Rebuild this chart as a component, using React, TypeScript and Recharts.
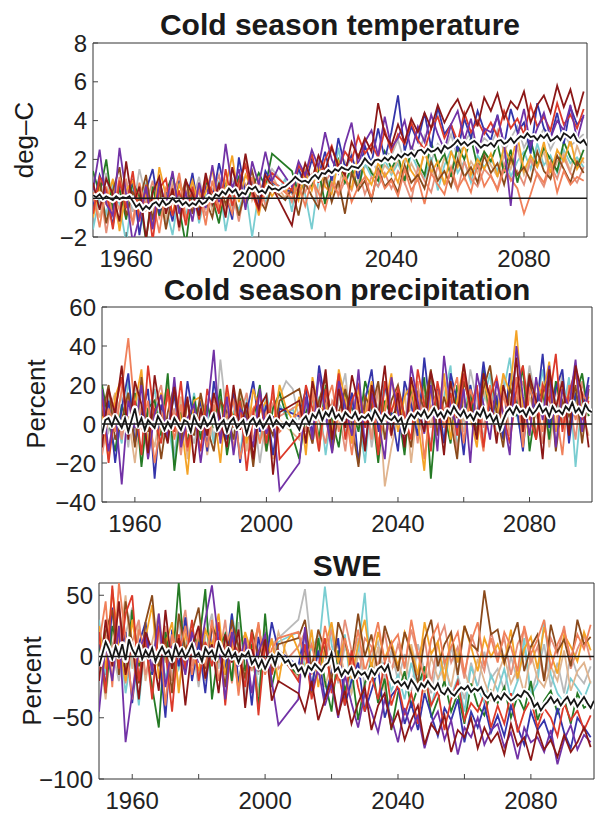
import React from 'react';
import { LineChart, Line, XAxis, YAxis, ReferenceLine, ReferenceArea } from 'recharts';

const W = 595;
const H = 814;
const FONT = '"Liberation Sans", Arial, Helvetica, sans-serif';
const Y_AXIS_W = 60;
const X_AXIS_H = 34;

/* ------------------------------------------------------------------ */
/*  Data                                                               */
/* ------------------------------------------------------------------ */
// annual x axis 1950..2099, model runs sampled every 2nd year (1950, 1952 ... 2098)
const YEARS = Array.from({ length: 150 }, (_, i) => 1950 + i);
const X_TICKS = [1960, 1980, 2000, 2020, 2040, 2060, 2080];
const X_LABELS = [1960, 2000, 2040, 2080];

const TAS_TICKS = [-2, 0, 2, 4, 6, 8];
const PR_TICKS = [-40, -20, 0, 20, 40, 60];
const SWE_TICKS = [-100, -50, 0, 50];

// ensemble means (annual)
const tasMean = [
  0.15, 0.05, 0.2, -0.05, 0.1, 0.0, -0.1, 0.1, -0.05, 0.05,
  0.0, 0.1, -0.15, -0.45, -0.3, -0.6, -0.4, -0.55, -0.3, -0.2,
  -0.4, -0.1, -0.35, -0.25, 0.0, -0.2, -0.1, -0.35, -0.2, -0.4,
  -0.25, -0.35, -0.1, -0.3, -0.2, 0.05, -0.1, 0.2, 0.1, 0.35,
  0.2, 0.5, 0.3, 0.45, 0.1, 0.3, 0.2, 0.55, 0.45, 0.6,
  0.3, 0.4, 0.25, 0.6, 0.45, 0.5, 0.4, 0.55, 0.6, 0.75,
  0.9, 1.1, 0.95, 0.85, 0.9, 0.8, 1.05, 1.2, 1.0, 1.3,
  1.25, 1.45, 1.3, 1.5, 1.4, 1.6, 1.5, 1.45, 1.65, 1.6,
  1.55, 1.75, 2.05, 1.85, 1.7, 1.95, 2.0, 1.9, 2.1, 1.95,
  2.15, 2.0, 2.25, 2.1, 2.3, 2.2, 2.35, 2.15, 2.45, 2.5,
  2.3, 2.55, 2.4, 2.45, 2.6, 2.35, 2.7, 2.55, 2.65, 2.8,
  3.0, 2.75, 2.9, 2.7, 2.85, 2.95, 2.8, 2.6, 2.75, 2.7,
  2.85, 2.65, 2.95, 3.0, 2.8, 2.9, 3.1, 2.85, 3.05, 3.2,
  3.1, 3.35, 3.15, 3.2, 3.0, 3.25, 3.1, 3.3, 2.95, 3.05,
  3.2, 3.0, 3.35, 3.25, 3.1, 3.3, 2.95, 2.85, 3.0, 2.7,
];
const prMean = [
  -5, 2, 3, -1, 4, 1, -2, 3, -4, 2,
  8, -1, 3, -3, 2, 0, -2, 4, 1, -3,
  1, -2, 3, 0, -3, 2, 1, -4, 4, 0,
  -2, 3, -1, 1, 5, -3, 0, 2, -4, 1,
  3, -2, 0, 2, -5, 1, 3, -1, 2, -2,
  1, 4, -1, 2, 0, -2, 1, -1, 2, 0,
  -3, 2, 4, 0, 5, 3, 7, 2, 6, 4,
  8, 3, 5, 2, 6, 4, 3, 6, 2, 4,
  3, 5, 2, 7, 4, 1, 5, 3, 2, 4,
  1, 3, -4, 2, 5, 3, 6, 4, 7, 3,
  5, 8, 4, 6, 3, 7, 5, 9, 6, 4,
  7, 3, 5, 2, 6, 4, 8, 3, 5, 1,
  4, -3, 2, 6, 8, 5, 9, 6, 7, 4,
  8, 5, 7, 10, 6, 8, 4, 9, 6, 7,
  5, 9, 7, 11, 6, 8, 5, 10, 7, 6,
];
const sweMean = [
  -8, 2, 12, 6, -2, 8, 0, 10, -3, 14,
  6, 1, 9, -2, 5, 0, 7, -4, 3, 8,
  2, 5, -3, 9, 1, 6, -1, 4, 10, 0,
  3, -4, 7, 2, 5, -2, 11, 4, 0, 6,
  -1, 3, -5, 2, 0, 4, -6, -2, -9, -3,
  -10, -4, 1, -7, 3, 0, -5, -3, -8, -6,
  -12, -9, -16, -8, -11, -6, -9, -12, -7, -5,
  3, -12, -9, -16, -11, -14, -9, -17, -12, -15,
  -13, -18, -11, -15, -10, -8, -12, -7, -18, -22,
  -20, -24, -21, -26, -19, -23, -28, -22, -25, -20,
  -24, -27, -22, -29, -31, -26, -30, -32, -28, -25,
  -27, -24, -29, -26, -28, -25, -31, -34, -30, -36,
  -32, -35, -30, -33, -36, -34, -31, -33, -28, -30,
  -34, -41, -38, -44, -40, -37, -33, -38, -35, -40,
  -36, -33, -39, -35, -41, -37, -33, -38, -42, -36,
];

// cold season temperature, deg-C (every 2nd year)
const tasDarkRed = [
  0.8, -0.6, 1.0, 0.2, -1.2, 1.9, -0.4, 0.6, -2.1, 0.3, 1.1, -0.8, 0.5, -1.5, 0.9,
  0.2, -0.9, 1.3, -0.3, 0.7, -1.0, 1.6, 0.1, 2.3, 0.4, -0.5, 1.2, 0.6, null, null,
  -1.4, 0.5, 1.8, 0.9, 2.2, 1.4, 2.6, 1.7, 1.2, 2.9, 2.1, 3.1, 2.4, 4.9, 3.3,
  2.7, 3.8, 2.9, 4.1, 3.4, 4.4, 3.6, 4.8, 3.9, 4.6, 5.1, 4.2, 4.9, 3.7, 5.2,
  4.5, 5.4, 4.1, 5.0, 4.6, 5.5, 3.9, 4.8, 5.3, 4.4, 5.8, 4.7, 5.6, 4.3, 5.5,
];
const tasPurple = [
  0.4, 2.5, -0.3, -0.9, 2.6, 0.2, -2.3, -1.0, 0.6, -1.6, 0.9, -0.4, 1.4, -0.8, 0.3,
  -1.2, 0.8, -0.5, 1.7, -0.2, 2.8, 0.5, 1.5, -0.6, 1.9, 0.7, 2.4, 0.9, 1.6, 1.1,
  0.6, 1.9, 1.2, 2.5, 1.6, 3.4, 2.0, 1.3, 2.8, 3.9, 1.7, 2.9, 3.5, 2.2, 4.2,
  2.6, 3.1, 4.0, 2.4, 3.7, 2.9, 4.3, 3.3, 2.5, 3.8, 4.5, 3.0, 4.1, 2.3, 3.6,
  3.4, 4.2, 2.8, -0.4, 3.2, 4.6, 2.7, 3.6, 4.4, 3.1, 4.0, 3.5, 4.8, 3.0, 4.3,
];
const tasBlue = [
  -0.5, 1.2, 0.3, -1.4, 0.8, -0.2, 1.0, -1.9, 0.4, 1.5, -0.7, 0.2, -1.2, 0.9, -0.4,
  1.3, -0.8, 0.6, -0.1, 1.8, 0.3, -1.1, 2.1, 0.2, 1.0, -0.3, 1.4, 0.8, null, null,
  0.3, 1.5, 0.7, 2.0, 1.1, 2.4, 0.9, 3.1, 1.6, 2.2, 1.0, 2.7, 1.8, 3.6, 2.0,
  3.4, 5.3, 2.4, 3.7, 2.9, 4.4, 2.6, 4.7, 3.3, 3.8, 2.4, 4.1, 3.1, 4.5, 3.5,
  3.0, 4.3, 2.7, 4.6, 3.4, 3.9, 2.3, 4.9, 3.6, 3.1, 4.4, 2.8, 4.7, 3.8, 4.2,
];
const tasGreen = [
  1.4, 0.2, 2.0, -0.6, 0.5, -1.1, 0.8, 0.1, -2.2, 0.6, -0.9, 0.3, 1.2, -0.5, -2.4,
  0.4, -0.6, 0.9, 0.0, -1.3, 0.7, 0.2, 1.1, -0.4, 0.5, 1.3, 0.6, 2.3, null, null,
  1.4, 0.2, 1.0, 0.6, 1.5, -0.3, 1.2, 2.0, 0.8, 1.6, 0.4, 2.1, 1.3, 0.9, 2.4,
  1.5, 2.2, 0.9, 2.6, 1.8, 1.2, 2.9, 1.7, 2.3, 1.1, 2.7, 2.0, 3.1, 1.6, 2.4,
  1.9, 2.8, 1.3, 2.5, 0.8, 2.2, 3.0, 1.7, 2.6, 2.0, 1.4, 2.9, 2.1, 1.6, 2.5,
];
const tasOrange = [
  -1.0, 0.5, -0.3, 1.0, -1.7, 0.4, 0.9, -0.6, 0.2, -1.3, 1.6, 0.1, -0.8, 0.7, -0.2,
  0.9, -0.4, 0.3, 1.5, -0.7, 0.6, 2.2, -0.2, 1.2, 0.5, -0.9, 0.8, 0.1, 0.6, 0.3,
  0.9, -0.1, 1.4, 0.4, 1.7, 0.6, 0.2, 1.9, 1.0, 0.5, 2.3, 1.2, 0.7, 1.8, 1.1,
  1.6, 0.8, 2.2, 1.4, 0.9, 2.5, 1.3, 1.9, 0.7, 2.4, 1.6, 2.8, 1.2, 2.0, 1.5,
  2.3, 1.1, 2.7, 1.8, 3.2, 1.4, 2.2, 1.6, 2.9, 1.3, 2.5, 1.9, 3.0, 1.5, 2.1,
];
const tasCoral = [
  0.3, -1.5, 0.6, -0.9, 1.1, -0.4, -1.2, 0.8, -0.6, 0.0, -1.8, 0.5, -0.2, 1.3, -1.0,
  -0.3, 0.4, -1.4, 0.9, -0.5, 0.2, -0.8, 0.7, -0.2, 1.1, -0.6, 0.3, 0.9, null, null,
  0.0, 0.7, -0.4, 1.0, 0.3, -0.6, 0.8, 0.2, 1.3, -0.2, 0.6, 1.1, 0.0, 1.4, 0.5,
  0.9, 0.1, 1.5, 0.4, 1.0, -0.3, 1.3, 0.7, 0.2, 1.6, 0.5, 1.1, 0.3, 1.8, 0.6,
  1.2, 0.4, 1.5, 1.0, 0.5, -0.8, 0.2, 1.3, 0.8, 1.9, 0.3, 1.4, 0.7, 1.1, 0.9,
];
const tasBrown = [
  -0.7, 0.9, -1.3, 0.4, 1.6, -0.9, 0.3, -0.2, 1.2, -1.1, 0.6, -1.6, 0.2, -0.4, 1.0,
  -0.8, 0.5, -0.1, -1.0, 0.8, -0.3, 0.6, -0.9, 0.4, 1.4, 0.0, -0.6, 0.7, 0.2, -0.1,
  0.5, -0.9, 0.8, 0.1, -0.5, 1.2, -0.2, 0.9, -0.8, 1.3, 0.4, 0.9, -0.1, 1.5, 0.6,
  1.0, 0.3, 1.7, 0.8, 1.2, 0.5, 1.9, 0.9, 1.4, 0.6, 2.0, 1.1, 1.6, 0.8, 2.2,
  1.3, 1.8, 0.7, 2.1, 1.2, 1.6, 0.9, 2.4, 1.4, 1.0, 2.2, 1.5, 0.8, 1.9, 1.3,
];
const tasCyan = [
  -1.6, 0.1, -0.8, 0.7, -0.3, -2.3, 0.4, -0.6, 0.8, -1.2, 0.2, -0.5, -1.9, 0.3, -0.9,
  0.5, -1.3, 0.2, -0.4, 0.9, -1.7, 0.1, -0.6, 0.5, -2.0, 0.3, -0.2, 0.8, 0.4, 1.0,
  -0.7, 1.6, 0.2, -1.6, 0.9, 1.3, 0.3, 2.6, 0.8, 1.4, 0.5, 1.8, 1.1, 0.6, 2.0,
  1.2, 1.8, 0.9, 2.3, 1.5, 1.0, 2.1, 0.4, 1.7, 2.5, 1.3, 1.9, 0.8, 2.2, 1.6,
  2.0, 1.4, 2.6, 1.1, 1.9, 2.4, 1.5, 2.8, 1.7, 2.2, 1.3, 2.5, 1.8, 2.1, 1.6,
];
const tasGray = [
  0.6, -0.4, 1.3, -1.0, 0.2, 0.9, -0.7, 1.5, 0.0, -0.5, 0.7, -1.4, 0.4, 1.0, -0.3,
  -0.1, 1.1, -0.6, 0.5, 0.1, -0.4, 1.0, 0.3, -0.3, 0.8, 0.2, 0.6, 1.5, null, null,
  0.2, 0.9, 1.3, 0.5, 2.1, 1.0, 0.6, 1.8, 1.2, 2.3, 0.9, 1.6, 2.0, 1.3, 2.4,
  2.2, 3.0, 1.8, 2.6, 2.3, 3.2, 1.9, 2.8, 2.4, 3.3, 2.0, 2.9, 3.4, 2.5, 3.1,
  2.8, 3.5, 2.4, 3.1, 3.7, 2.6, 3.3, 2.9, 3.6, 2.5, 3.2, 3.4, 2.7, 3.0, 3.3,
];
const tasTan = [
  0.2, -1.0, 0.5, -0.2, -1.5, 0.8, 0.0, -0.9, 0.6, -0.4, 0.3, -1.1, 0.9, -0.6, 0.1,
  0.7, -0.2, 1.1, -0.7, 0.4, 0.9, -0.5, 0.6, 2.0, -0.1, 0.8, 0.3, 1.2, 0.5, 0.0,
  1.0, 0.4, 1.5, 0.8, 0.3, 1.6, 1.0, 0.5, 1.9, 1.2, 0.7, 2.1, 1.4, 0.9, 1.7,
  1.3, 2.0, 0.8, 1.8, 1.1, 2.3, 1.5, 0.9, 2.1, 1.4, 2.6, 1.0, 1.9, 1.3, 2.4,
  1.7, 1.1, 2.2, 1.5, 2.6, 1.2, 2.0, 1.6, 2.4, 1.0, 1.9, 2.3, 1.4, 2.7, 1.8,
];
const tasRed = [
  -0.8, 1.1, 0.4, -1.6, 0.9, -0.5, 1.4, -1.2, 0.7, -2.2, 0.5, 1.0, -0.9, 0.4, -1.4,
  0.6, -1.1, 1.0, 0.3, -0.8, 1.5, -0.4, 0.9, 1.7, 0.2, -0.6, 0.9, 1.3, null, null,
  0.4, 1.7, 1.1, 2.3, 0.8, 2.0, 2.7, 1.5, 2.4, 1.9, 3.2, 2.3, 2.8, 2.1, 3.5,
  2.4, 3.3, 2.8, 3.9, 3.0, 2.5, 3.6, 4.2, 3.1, 3.8, 2.9, 4.4, 3.4, 4.0, 3.3,
  3.9, 3.2, 4.5, 3.6, 4.1, 3.3, 4.8, 3.7, 4.2, 3.5, 4.9, 3.8, 4.3, 3.6, 4.6,
];
const tasSalmon = [
  -0.2, 0.7, -1.8, 0.3, -0.6, 1.0, -1.4, 0.2, -0.3, 0.9, -1.0, -0.1, 0.6, -1.7, 0.4,
  -0.5, 0.8, -0.9, 0.2, 1.2, -0.6, 0.4, -1.2, 0.7, 0.0, 1.0, -0.4, 0.5, 0.2, 0.6,
  -0.2, 0.9, 0.3, 1.2, -0.3, 0.8, 1.4, 0.1, 0.9, 0.4, 1.5, 0.2, 1.1, 0.6, 1.3,
  0.5, 1.4, 0.8, -0.1, 1.6, 0.9, 0.3, 1.7, 0.7, 1.2, 0.4, 1.9, 1.0, 0.6, 1.5,
  1.1, 0.5, 1.8, 0.9, 1.4, 0.7, 2.0, 1.2, 0.6, 1.7, 1.0, 2.1, 1.3, 0.8, 1.6,
];

// cold season precipitation, percent (every 2nd year)
const prDarkRed = [
  -12, 18, 5, 30, -8, 22, 10, -15, 25, 3, -10, 19, -4, 14, -20,
  8, -6, 16, 2, -12, 20, -3, 11, -18, 9, 15, -26, 6, null, null,
  12, -10, 22, 5, 28, -8, 18, -2, 25, 10, -14, 20, 4, 30, -6,
  16, -12, 24, 8, -4, 27, 12, -16, 22, 3, 31, 9, -8, 26, 14,
  -10, 20, 6, 34, -4, 25, 12, -18, 28, 8, 22, -6, 30, 15, -12,
];
const prPurple = [
  18, -14, 8, -31, 12, -2, 20, -18, 5, 15, -8, 24, -12, 3, 10,
  -20, 6, 38, -10, 14, -16, 8, 2, -12, 18, -5, 4, -34, null, null,
  -20, 14, -8, 26, 4, -15, 22, 9, -6, 28, -12, 16, 2, -18, 24,
  6, -10, 30, 12, -5, 20, -14, 35, 8, -2, 18, -20, 26, 10, -8,
  22, 4, -16, 40, 14, -6, 24, 2, 30, -12, 18, 8, 33, -4, 20,
];
const prBlue = [
  -6, 12, -20, 8, 26, -10, 4, 18, -28, 10, -2, 15, -9, 22, 0,
  12, -14, 22, 3, -8, 16, -20, 6, 22, -4, 10, -16, 8, null, null,
  4, 18, -6, 30, 10, -12, 24, 2, 16, -20, 12, 28, -4, 20, 6,
  -14, 22, 10, -6, 34, 4, 18, -10, 26, 12, -16, 20, 2, 32, 8,
  14, -8, 26, 10, -14, 22, 6, 36, -2, 18, 28, -10, 16, 4, 24,
];
const prGreen = [
  20, 2, -14, 10, -4, 16, -22, 8, 12, -6, 26, -24, 6, -10, 14,
  -8, 10, -2, 18, -16, 4, 12, -6, 2, 20, -14, 8, 16, null, null,
  -18, 6, 14, -8, 20, 2, -12, 16, 8, -4, 22, 10, -20, 12, 4,
  8, -16, 18, 2, 24, -28, 12, 6, -10, 20, 4, 16, -6, 28, 2,
  12, -6, 20, 4, 30, -14, 10, 18, -8, 22, 6, -2, 14, 26, 4,
];
const prOrange = [
  6, -18, 14, 24, -2, 10, 28, -12, 4, 16, -8, 20, 2, -26, 12,
  14, -4, 8, -20, 16, 2, 10, -10, 18, 6, 12, -2, 20, 8, 2,
  14, -16, 24, 6, 10, -6, 28, 12, -10, 18, 4, 22, -14, 8, 26,
  -4, 14, 20, 2, -24, 18, 6, 26, -8, 12, 30, 4, -12, 22, 10,
  2, 26, 16, 48, 8, -6, 22, 14, 32, -4, 18, 10, 26, 6, 14,
];
const prCoral = [
  -10, 8, -4, 18, 44, 6, -2, 12, -20, 2, 14, -8, 10, -14, 4,
  2, -12, 10, -6, 4, 12, -18, 0, 8, -10, 6, 14, -4, null, null,
  6, -8, 16, -12, 10, 20, -4, 8, -16, 14, 2, 18, -10, 6, 22,
  10, -6, 14, 22, -18, 8, 16, -2, 12, 24, -10, 18, 6, -14, 20,
  -8, 14, 6, 24, -12, 18, 10, -4, 28, 8, -16, 20, 2, 16, 10,
];
const prBrown = [
  4, 20, -8, 2, 16, -12, 24, -4, 8, -18, 6, 20, -10, 12, -6,
  16, -2, -14, 12, 6, -8, 18, 4, -22, 10, 2, -6, 12, null, null,
  18, 2, -10, 12, 24, -14, 6, 18, 0, -22, 14, 8, 22, -8, 12,
  20, 4, -12, 16, 8, 28, -6, 14, 2, -18, 22, 10, -4, 18, 30,
  6, -12, 18, 10, 2, 26, -8, 16, 24, -14, 12, 4, 20, -10, 18,
];
const prCyan = [
  -2, 12, 4, -10, 22, 0, -14, 6, 18, -8, 2, -20, 12, -4, 16,
  -6, 8, -10, 14, -2, 6, -16, 12, 4, -8, 16, -2, 10, 4, 8,
  -4, 10, 2, 14, -16, 8, 20, -6, 12, 4, -20, 16, 6, 22, -2,
  12, 0, 18, -8, 10, 22, -4, 14, 30, -12, 6, 20, -6, 12, 26,
  -4, 16, 34, 6, -10, 18, 8, 28, -2, 12, 4, 24, -22, 14, 8,
];
const prGray = [
  10, -4, 6, 14, -12, 20, 4, -8, 12, -2, 18, -16, 8, 2, -10,
  6, 12, -8, 33, 2, -12, 14, -4, 8, -20, 4, 10, 14, 22, 18,
  2, 14, -10, 8, 18, -4, 12, 26, -8, 6, 16, -12, 10, 20, 0,
  14, -6, 10, 20, 4, -10, 16, 2, 24, 8, -4, 28, 12, -8, 18,
  10, 24, -6, 14, 4, 30, 12, -10, 18, 6, 26, -2, 16, 8, 20,
];
const prTan = [
  -14, 6, 16, -6, 4, -20, 10, 2, -12, 8, 20, -4, 14, -18, 6,
  10, -16, 4, 12, -8, 2, 18, -14, 6, -2, 8, -18, 2, null, null,
  -8, 12, 4, -14, 16, 6, -2, 20, -10, 8, 14, -6, 18, -32, -12,
  4, 18, -20, 10, 14, -2, 20, 8, 10, 16, 2, 12, -6, 18, 4,
  16, -2, 12, 20, -8, 14, 4, 22, -12, 10, 18, -4, 12, 6, -6,
];
const prRed = [
  14, -20, 8, 24, -6, 12, -16, 30, 2, -10, 18, -4, 22, -12, 6,
  -14, 18, 4, -8, 20, -2, 12, -24, 6, 16, -10, 20, -18, null, null,
  -6, 20, 8, -14, 18, 4, 26, -8, 12, 20, -2, 14, -16, 22, 6,
  18, 4, -8, 28, 10, -14, 22, 4, 16, -6, 26, 8, 20, -12, 14,
  24, 6, -10, 18, 30, 4, -8, 20, 12, 36, -4, 16, 28, 2, 12,
];
const prSalmon = [
  -16, 4, 12, -8, 16, -2, 8, -18, 10, 20, -6, 8, -16, 12, -4,
  6, -10, 14, -4, 10, -12, 4, 16, -8, 2, -14, 10, 4, null, null,
  10, -4, 18, 2, -10, 12, 6, -14, 16, 0, 10, -8, 20, 4, -6,
  12, 2, 16, -10, 20, 6, -4, 22, 10, -14, 14, 4, 18, -2, 12,
  6, 18, -6, 12, 22, 2, 16, -10, 8, 20, 0, 14, -8, 22, 4,
];

// snow water equivalent, percent (every 2nd year)
const sweDarkRed = [
  -20, 30, -8, 45, -15, 12, -35, 20, 5, -28, 38, -10, 15, -40, 8,
  25, -18, 10, -30, 18, -5, 22, -42, 6, -12, 14, -36, -20, null, null,
  -30, -45, -20, -52, -35, -18, -48, -28, -55, -38, -25, -60, -40, -30, -58,
  -45, -68, -52, -40, -72, -55, -63, -48, -78, -60, -66, -50, -75, -58, -70,
  -62, -80, -55, -73, -66, -85, -60, -76, -68, -82, -64, -78, -70, -58, -74,
];
const swePurple = [
  -45, 10, -20, 25, -70, -30, 5, 18, -12, 35, -25, 8, 8, -15, 20,
  -5, 30, 58, 12, -35, 20, -8, 15, -30, 4, 18, -20, -56, null, null,
  -35, 24, -28, -10, -40, -22, -50, -15, -38, -58, -30, -45, -62, -35, -50,
  -70, -42, -60, -48, -75, -55, -45, -68, -52, -80, -58, -66, -50, -72, -60,
  -55, -74, -62, -84, -58, -70, -66, -78, -60, -88, -68, -56, -76, -64, -70,
];
const sweBlue = [
  15, -25, 40, -5, 20, -38, 10, 28, -15, 5, -50, 22, -8, 32, -20,
  12, -30, 25, 2, -12, 35, -22, 8, -40, 16, -10, 28, 5, null, null,
  -8, 20, -25, 5, -35, -12, 15, -40, -20, -5, -45, -28, -10, -50, -32,
  -25, -55, -38, -60, -30, -48, -65, -42, -52, -35, -70, -45, -58, -40, -62,
  -48, -65, -40, -58, -72, -45, -60, -52, -68, -42, -62, -75, -50, -58, -66,
];
const sweGreen = [
  12, -30, 25, 5, -15, 38, -8, 10, -25, -58, 20, -10, 60, -12, 20,
  8, 55, -35, 5, 18, -20, 45, -12, 10, -42, 35, -25, 0, null, null,
  -15, 8, -30, 15, -20, -45, 5, -28, -10, -52, -22, -5, -38, -18, -60,
  -30, -12, -42, -25, -8, -50, -35, -20, -45, -30, -55, -22, -40, -48, -28,
  -38, -25, -50, -32, -44, -20, -52, -36, -28, -46, -34, -55, -30, -42, -38,
];
const sweOrange = [
  25, -10, 55, 8, -20, 30, -5, 15, 42, -18, 10, 28, -30, 18, 5,
  -12, 22, 8, 35, -15, 12, -28, 20, 2, 26, -8, 14, -22, 10, 18,
  5, -12, 22, -25, 8, 28, -5, 15, -18, 10, 30, -10, 20, -2, 12,
  -8, 20, 5, -15, 28, 2, 12, -20, 18, -5, 25, 8, -12, 15, 0,
  10, -6, 22, -18, 6, 16, -10, 24, 2, -14, 18, 8, -4, 20, 5,
];
const sweCoral = [
  10, 45, -25, 60, 15, -35, 22, 5, -12, 30, -40, 18, 0, 25, -15,
  20, -8, 30, -20, 8, 22, -32, 12, -5, 28, -15, 6, 15, null, null,
  20, -2, 10, -15, 25, 0, -20, 15, -8, 22, -12, 5, 28, -5, 10,
  18, -10, 30, 2, -18, 14, 26, -6, 8, 20, -14, 12, 28, -8, 15,
  -5, 20, 8, -12, 25, 2, 14, 30, -10, 10, 22, -2, 18, 6, 26,
];
const sweBrown = [
  -5, 20, 38, -15, 45, 10, -22, 28, 50, -8, 15, -30, 35, 5, 20,
  40, -10, 25, 12, -25, 30, 8, -18, 22, 0, 18, -12, 10, null, null,
  15, 30, -10, 22, 5, -20, 28, 12, -5, 35, 0, 18, -15, 25, 8,
  -12, 20, 2, -22, 14, 30, -8, 10, 20, -15, 25, 10, 5, 54, 18,
  22, -5, 12, 28, -12, 8, 18, -20, 26, 4, 14, -8, 30, 10, 16,
];
const sweCyan = [
  30, -15, 10, 20, -30, 5, -40, 15, 0, 25, -20, 12, -10, 8, 28,
  -18, 10, -5, 22, -12, 35, 5, -20, 15, -28, 8, -5, 12, null, null,
  20, -10, 8, 2, 57, 10, -15, 18, -30, 5, 52, -20, -8, -5, -28,
  -15, -35, -5, -28, -12, -40, -20, 0, -32, -18, -45, -8, -25, -38, -15,
  -28, -10, -35, -20, 15, -32, -22, 30, -15, -30, -38, -18, -26, -34, -20,
];
const sweGray = [
  -12, 25, 5, -20, 18, 40, -8, 12, -30, 22, 2, -15, 30, -5, 10,
  -25, 15, 35, -10, 20, -2, 28, -35, 8, -15, 22, 10, 15, null, null,
  30, 55, 5, 18, -10, 25, -22, 8, -5, 15, -25, 0, 12, -18, 5,
  -20, 2, -28, 10, -12, -30, 0, -22, 8, -16, -35, -5, -25, 4, -18,
  -10, -28, 0, -20, 8, -32, -12, 10, -25, -5, -30, 2, -15, -22, -8,
];
const sweTan = [
  5, -35, 20, 8, 50, -10, 28, -20, 12, 35, -5, 18, -25, 10, 0,
  15, -20, 8, 28, -12, 10, -25, 18, 5, -32, 12, -8, 20, 5, -10,
  -18, 5, -8, 12, -25, -5, 10, -15, -30, 2, -12, -20, 8, -28, -10,
  -5, -22, 10, -15, -30, 0, -18, -8, -25, 5, -12, -28, -2, -20, -35,
  -15, 0, -22, -10, -30, 2, -18, -25, -8, -20, 5, -28, -12, -5, -22,
];
const sweRed = [
  20, -30, 58, -10, 35, 50, -20, 15, -35, 25, 5, -45, 18, -10, 30,
  -20, 12, -8, 28, -40, 15, 2, -25, 20, -48, 10, -15, 5, null, null,
  -20, 10, -35, -8, 15, -30, -12, -40, 5, -25, -45, -15, -35, -5, -40,
  -22, -48, -30, -55, -15, -40, -28, -60, -35, -20, -52, -38, -45, -30, -58,
  -40, -55, -30, -62, -45, -35, -58, -42, -50, -65, -38, -52, -44, -60, -48,
];
const sweSalmon = [
  -10, 18, 5, 40, -22, 12, 30, -15, 8, -5, 25, -20, 12, 38, -8,
  22, -15, 12, -5, 30, -22, 10, 18, -12, 25, -5, 15, -10, null, null,
  8, 20, -15, 12, 0, 22, -10, 30, 5, -18, 15, 8, -8, 20, -12,
  10, -8, 22, 0, 15, -22, 12, 25, -5, 8, -18, 18, 2, -12, 20,
  0, 15, -15, 10, 22, -5, 8, -20, 15, 2, 25, -10, 6, 18, -3,
];

/* ------------------------------------------------------------------ */
/*  Helpers                                                            */
/* ------------------------------------------------------------------ */
const COLORS = {
  gray: '#bababa',
  cyan: '#79cdd1',
  tan: '#e0b48e',
  salmon: '#e58f7a',
  green: '#257a25',
  blue: '#3434aa',
  orange: '#f4a326',
  brown: '#8a4a1c',
  coral: '#f0805a',
  red: '#dc3a2a',
  purple: '#7232a6',
  darkred: '#8c1717',
};

type Model = { key: string; color: string; values: (number | null)[] };

const makeModels = (v: Record<string, (number | null)[]>): Model[] =>
  // draw order: light colours first, dark red on top
  ['gray', 'cyan', 'tan', 'salmon', 'green', 'blue', 'orange', 'brown', 'coral', 'red', 'purple', 'darkred'].map(
    (key) => ({ key, color: (COLORS as any)[key], values: v[key] }),
  );

const tasModels = makeModels({
  gray: tasGray, cyan: tasCyan, tan: tasTan, salmon: tasSalmon, green: tasGreen, blue: tasBlue,
  orange: tasOrange, brown: tasBrown, coral: tasCoral, red: tasRed, purple: tasPurple, darkred: tasDarkRed,
});
const prModels = makeModels({
  gray: prGray, cyan: prCyan, tan: prTan, salmon: prSalmon, green: prGreen, blue: prBlue,
  orange: prOrange, brown: prBrown, coral: prCoral, red: prRed, purple: prPurple, darkred: prDarkRed,
});
const sweModels = makeModels({
  gray: sweGray, cyan: sweCyan, tan: sweTan, salmon: sweSalmon, green: sweGreen, blue: sweBlue,
  orange: sweOrange, brown: sweBrown, coral: sweCoral, red: sweRed, purple: swePurple, darkred: sweDarkRed,
});

function buildRows(mean: number[], models: Model[]) {
  return YEARS.map((year, i) => {
    const row: Record<string, number> = { year, mean: mean[i], meanHalo: mean[i] };
    if (year % 2 === 0) {
      const j = (year - 1950) / 2;
      models.forEach((m) => {
        const v = m.values[j];
        if (v !== null && v !== undefined) row[m.key] = v;
      });
    }
    return row;
  });
}

const fmt = (v: number) => (v < 0 ? `\u2212${Math.abs(v)}` : `${v}`);

function XTick(props: any) {
  const { x, y, payload } = props;
  const v = payload.value;
  return (
    <g>
      <line x1={x} x2={x} y1={y} y2={y - 5} stroke="#444" strokeWidth={1} />
      {X_LABELS.includes(v) && (
        <text x={x} y={y + 30} textAnchor="middle" fontSize={24} fill="#222">
          {v}
        </text>
      )}
    </g>
  );
}

function YTick(props: any) {
  const { x, y, payload } = props;
  return (
    <g>
      <line x1={x} x2={x + 5} y1={y} y2={y} stroke="#444" strokeWidth={1} />
      <text x={x - 6} y={y + 8.5} textAnchor="end" fontSize={24} fill="#222">
        {fmt(payload.value)}
      </text>
    </g>
  );
}

/* ------------------------------------------------------------------ */
/*  Panel                                                              */
/* ------------------------------------------------------------------ */
interface Box {
  left: number;
  right: number;
  top: number;
  bottom: number;
}

interface PanelProps {
  box: Box;
  yDomain: [number, number];
  yTicks: number[];
  mean: number[];
  models: Model[];
}

const layer: React.CSSProperties = { position: 'absolute', left: 0, top: 0, pointerEvents: 'none' };

// three stacked charts with identical scales: model runs, then the
// ensemble mean, then the zero line on top of everything
function Panel({ box, yDomain, yTicks, mean, models }: PanelProps) {
  const rows = buildRows(mean, models);
  const margin = {
    top: box.top,
    right: W - box.right,
    bottom: H - box.bottom - X_AXIS_H,
    left: box.left - Y_AXIS_W,
  };
  const axes = (withTicks: boolean) => [
    <XAxis
      key="x"
      type="number"
      dataKey="year"
      domain={[1950, 2099]}
      ticks={X_TICKS}
      interval={0}
      allowDataOverflow
      height={X_AXIS_H}
      axisLine={false}
      tickLine={false}
      tickSize={0}
      tickMargin={0}
      tick={withTicks ? <XTick /> : false}
    />,
    <YAxis
      key="y"
      type="number"
      domain={yDomain}
      ticks={yTicks}
      interval={0}
      allowDataOverflow
      width={Y_AXIS_W}
      axisLine={false}
      tickLine={false}
      tickSize={0}
      tickMargin={0}
      tick={withTicks ? <YTick /> : false}
    />,
  ];

  return (
    <>
      <div style={layer}>
        <LineChart width={W} height={H} data={rows} margin={margin}>
          {axes(true)}
          <ReferenceArea
            x1={1950}
            x2={2099}
            y1={yDomain[0]}
            y2={yDomain[1]}
            fill="none"
            stroke="#333"
            strokeWidth={1}
            ifOverflow="visible"
          />
          {models.map((m) => (
            <Line
              key={m.key}
              type="linear"
              dataKey={m.key}
              stroke={m.color}
              strokeWidth={1.8}
              dot={false}
              activeDot={false}
              connectNulls
              isAnimationActive={false}
            />
          ))}
        </LineChart>
      </div>
      <div style={layer}>
        <LineChart width={W} height={H} data={rows} margin={margin}>
          {axes(false)}
          <Line
            key="meanHalo"
            type="linear"
            dataKey="meanHalo"
            stroke="#ffffff"
            strokeWidth={6}
            strokeLinejoin="round"
            dot={false}
            activeDot={false}
            isAnimationActive={false}
          />
          <Line
            key="mean"
            type="linear"
            dataKey="mean"
            stroke="#151515"
            strokeWidth={1.8}
            dot={false}
            activeDot={false}
            isAnimationActive={false}
          />
        </LineChart>
      </div>
      <div style={layer}>
        <LineChart width={W} height={H} data={rows} margin={margin}>
          {axes(false)}
          <ReferenceLine y={0} stroke="#1a1a1a" strokeWidth={1.5} />
        </LineChart>
      </div>
    </>
  );
}

export default function App() {
  return (
    <div
      style={{
        position: 'absolute',
        left: 0,
        top: 0,
        width: W,
        height: H,
        background: '#fff',
        fontFamily: FONT,
        overflow: 'hidden',
      }}
    >
      <Panel box={{ left: 93, right: 587, top: 43, bottom: 237 }} yDomain={[-2, 8]} yTicks={TAS_TICKS} mean={tasMean} models={tasModels} />
      <Panel box={{ left: 102, right: 592, top: 307, bottom: 502 }} yDomain={[-40, 60]} yTicks={PR_TICKS} mean={prMean} models={prModels} />
      <Panel box={{ left: 99, right: 594, top: 583, bottom: 779 }} yDomain={[-100, 60]} yTicks={SWE_TICKS} mean={sweMean} models={sweModels} />

      <svg width={W} height={H} style={{ position: 'absolute', left: 0, top: 0, pointerEvents: 'none' }} fontFamily={FONT}>
        <text x={340} y={35} textAnchor="middle" fontSize={30} fontWeight="bold" fill="#1a1a1a">
          Cold season temperature
        </text>
        <text x={347} y={300} textAnchor="middle" fontSize={30} fontWeight="bold" fill="#1a1a1a">
          Cold season precipitation
        </text>
        <text x={347} y={576} textAnchor="middle" fontSize={30} fontWeight="bold" fill="#1a1a1a">
          SWE
        </text>
        <text transform="translate(33,140) rotate(-90)" textAnchor="middle" fontSize={26} fill="#1a1a1a">
          deg–C
        </text>
        <text transform="translate(45,404) rotate(-90)" textAnchor="middle" fontSize={26} fill="#1a1a1a">
          Percent
        </text>
        <text transform="translate(41,681) rotate(-90)" textAnchor="middle" fontSize={26} fill="#1a1a1a">
          Percent
        </text>
      </svg>
    </div>
  );
}
